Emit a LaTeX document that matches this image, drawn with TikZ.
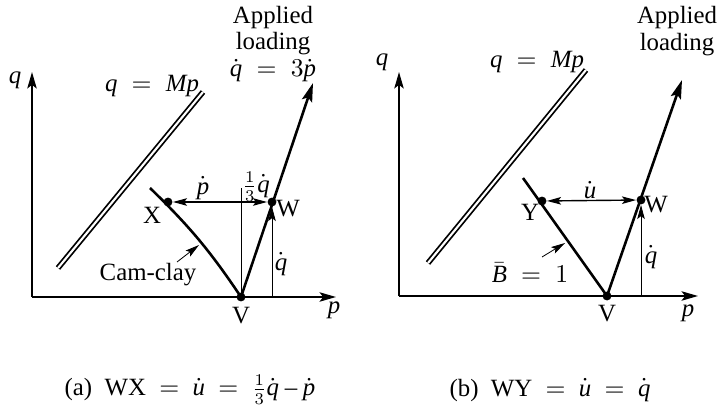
\documentclass[tikz,border=0pt]{standalone}
\usepackage{fontspec}
\setmainfont{Liberation Serif}
\usepackage[italic]{mathastext}
\usetikzlibrary{arrows.meta}

\tikzset{
	axis/.style={line width=0.8pt, -{Stealth[length=7pt, width=4pt, inset=1.5pt]}},
	loadline/.style={line width=1.1pt, -{Stealth[length=8pt, width=4.5pt, inset=1.5pt]}},
	yieldline/.style={line width=1.1pt},
	thinline/.style={line width=0.35pt},
	thinarrow/.style={line width=0.35pt, -{Stealth[length=6pt, width=3.2pt, inset=1.2pt]}},
	rateline/.style={line width=0.6pt, {Stealth[length=6pt, width=3.2pt, inset=1.2pt]}-{Stealth[length=6pt, width=3.2pt, inset=1.2pt]}},
	mpline/.style={double, double distance=0.9pt, line width=0.75pt},
	statept/.style={circle, fill, inner sep=0pt, minimum size=3.8pt},
}

\begin{document}
\begin{tikzpicture}[font=\fontsize{10.6pt}{11.5pt}\selectfont, inner sep=1pt]
	% Axes, points and arrows:
	\useasboundingbox (0, 0) rectangle (10.8, 6.09);
	% (a) Cam-clay
	\coordinate (Oa) at (0.48, 1.635);
	\coordinate (qa) at (0.48, 5.01);
	\coordinate (pa) at (5.04, 1.635);
	\node[statept] (Va) at (3.615, 1.635){};
	\node[statept] (Wa) at (4.08, 3.06){};
	\node[statept] (Xa) at (2.52, 3.06){};
	\coordinate (Ca) at (2.25, 3.27);
	\coordinate (La) at (4.695, 4.845);
	\coordinate (Ta) at (3.615, 3.27);
	\coordinate (Ma1) at (0.87, 2.07);
	\coordinate (Ma2) at (3.045, 4.71);
	\coordinate (CCa) at (2.655, 2.16);
	\coordinate (CCb) at (2.985, 2.415);
	\draw[axis] (Oa) -- (qa);
	\draw[axis] (Oa) -- (pa);
	\draw[mpline] (Ma1) -- (Ma2);
	\draw[yieldline] (Ca) to[bend left=6] (Va.center);
	\draw[loadline] (Va.center) -- (La);
	\draw[thinline] (Va.center) -- (Ta);
	\draw[thinarrow] (Wa |- Va) -- (Wa);
	\draw[rateline] (Xa) -- (Wa);
	\draw[thinarrow] (CCa) -- (CCb);
	\node (qlaba) at (0.225, 4.89){$q$};
	\node (plaba) at (5.01, 1.44){$p$};
	\node (Vlaba) at (3.615, 1.35){V};
	\node (Wlaba) at (4.32, 2.955){W};
	\node (Xlaba) at (2.28, 2.865){X};
	\node (pdota) at (3.045, 3.27){$\dot p$};
	\node (thirda) at (3.84, 3.29){$\frac{\scriptscriptstyle 1}{\scriptscriptstyle 3}\dot q$};
	\node (qdota) at (4.215, 2.13){$\dot q$};
	\node (camclay) at (2.22, 1.965){Cam-clay};
	\node (mpa) at (2.28, 4.8){$q\;=\;Mp$};
	\node[align=center] (loada) at (4.095, 5.43){Applied\\loading\\$\dot q\;=\;3\dot p$};
	\node (capa) at (2.85, 0.24){(a)\enskip WX $\;=\;$ $\dot u$ $\;=\;$ $\frac{\scriptscriptstyle 1}{\scriptscriptstyle 3}\dot q-\dot p$};
	% (b) Bbar = 1
	\coordinate (Ob) at (5.985, 1.65);
	\coordinate (qb) at (5.985, 5.01);
	\coordinate (pb) at (10.47, 1.65);
	\node[statept] (Vb) at (9.105, 1.65){};
	\node[statept] (Wb) at (9.615, 3.09){};
	\node[statept] (Yb) at (8.13, 3.075){};
	\coordinate (Bb) at (7.845, 3.42);
	\coordinate (Lb) at (10.23, 4.89);
	\coordinate (Mb1) at (6.42, 2.145);
	\coordinate (Mb2) at (8.79, 5.04);
	\coordinate (BBa) at (8.13, 2.235);
	\coordinate (BBb) at (8.475, 2.445);
	\draw[axis] (Ob) -- (qb);
	\draw[axis] (Ob) -- (pb);
	\draw[mpline] (Mb1) -- (Mb2);
	\draw[yieldline] (Bb) -- (Vb.center);
	\draw[loadline] (Vb.center) -- (Lb);
	\draw[thinarrow] (Wb |- Vb) -- (Wb);
	\draw[rateline] (Yb) -- (Wb);
	\draw[thinarrow] (BBa) -- (BBb);
	\node (qlabb) at (5.73, 5.16){$q$};
	\node (plabb) at (10.32, 1.395){$p$};
	\node (Vlabb) at (9.105, 1.38){V};
	\node (Wlabb) at (9.84, 3.015){W};
	\node (Ylabb) at (7.95, 2.91){Y};
	\node (udotb) at (8.85, 3.24){$\dot u$};
	\node (qdotb) at (9.765, 2.235){$\dot q$};
	\node (bbar) at (7.95, 1.995){$\bar B\;=\;1$};
	\node (mpb) at (8.055, 5.16){$q\;=\;Mp$};
	\node[align=center] (loadb) at (10.155, 5.625){Applied\\loading};
	\node (capb) at (8.25, 0.24){(b)\enskip WY $\;=\;$ $\dot u$ $\;=\;$ $\dot q$};
\end{tikzpicture}
\end{document}
